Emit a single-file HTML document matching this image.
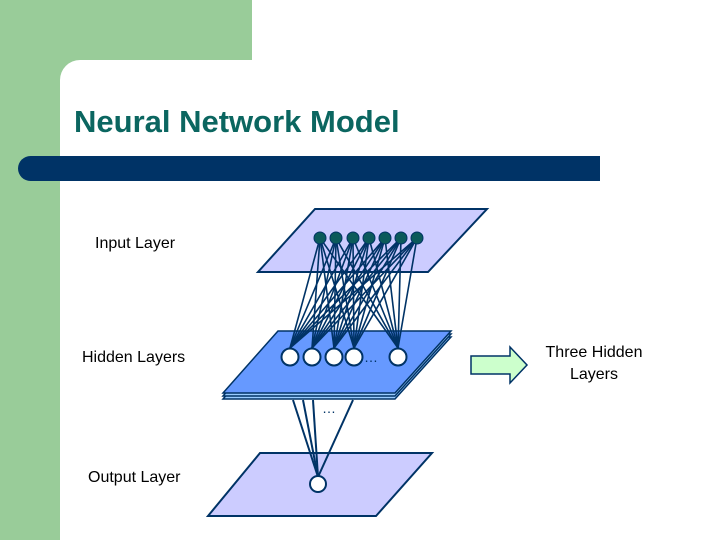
<!DOCTYPE html>
<html><head><style>
body{margin:0;width:720px;height:540px;overflow:hidden;background:#fff;font-family:"Liberation Sans",sans-serif;}
</style></head><body>
<svg width="720" height="540" xmlns="http://www.w3.org/2000/svg" style="position:absolute;left:0;top:0">
<rect x="0" y="0" width="60" height="540" fill="#99cc99"/>
<rect x="0" y="0" width="252" height="60" fill="#99cc99"/>
<path d="M60 60 L60 80 A20 20 0 0 1 80 60 Z" fill="#99cc99"/>
<rect x="18" y="156" width="582" height="25" rx="12.5" fill="#003366"/>
<rect x="40" y="156" width="560" height="25" fill="#003366"/>
<text x="74" y="132" font-size="31" font-weight="bold" fill="#0b6660" font-family="Liberation Sans, sans-serif">Neural Network Model</text>
<g font-family="Liberation Sans, sans-serif" font-size="16" fill="#000">
<text x="95" y="248">Input Layer</text>
<text x="82" y="362">Hidden Layers</text>
<text x="88" y="482">Output Layer</text>
<text x="594" y="357" text-anchor="middle">Three Hidden</text>
<text x="594" y="379" text-anchor="middle">Layers</text>
</g>
<!-- input plane -->
<polygon points="315,209 487,209 428,272 258,272" fill="#ccccff" stroke="#003366" stroke-width="2"/>
<!-- hidden planes -->
<polygon points="278,337 451,337 395,399 223,399" fill="#99ccff" stroke="#003366" stroke-width="1.5"/>
<polygon points="278,334 451,334 395,396 223,396" fill="#99ccff" stroke="#003366" stroke-width="1.5"/>
<polygon points="278,331 451,331 395,393 223,393" fill="#6699ff" stroke="#003366" stroke-width="1.5"/>
<!-- output plane -->
<polygon points="260,453 432,453 376,516 208,516" fill="#ccccff" stroke="#003366" stroke-width="2"/>
<g stroke="#003366" stroke-width="1.5" id="conn"></g>
<g stroke="#003366" stroke-width="2">
<line x1="293" y1="400" x2="318" y2="477"/>
<line x1="303" y1="400" x2="318" y2="477"/>
<line x1="313" y1="400" x2="318" y2="477"/>
<line x1="353" y1="400" x2="318" y2="477"/>
</g>
<text x="322" y="413" font-size="14" fill="#003366">…</text>
<text x="364" y="362" font-size="14" fill="#003366">…</text>
<g stroke="#003366" stroke-width="1.5">
<script>
</script>
</g>
<g id="lines" stroke="#003366" stroke-width="1.6">
<line x1="320" y1="238" x2="290" y2="348"/><line x1="320" y1="238" x2="312" y2="348"/><line x1="320" y1="238" x2="334" y2="348"/><line x1="320" y1="238" x2="354" y2="348"/><line x1="320" y1="238" x2="398" y2="348"/>
<line x1="336" y1="238" x2="290" y2="348"/><line x1="336" y1="238" x2="312" y2="348"/><line x1="336" y1="238" x2="334" y2="348"/><line x1="336" y1="238" x2="354" y2="348"/><line x1="336" y1="238" x2="398" y2="348"/>
<line x1="353" y1="238" x2="290" y2="348"/><line x1="353" y1="238" x2="312" y2="348"/><line x1="353" y1="238" x2="334" y2="348"/><line x1="353" y1="238" x2="354" y2="348"/><line x1="353" y1="238" x2="398" y2="348"/>
<line x1="369" y1="238" x2="290" y2="348"/><line x1="369" y1="238" x2="312" y2="348"/><line x1="369" y1="238" x2="334" y2="348"/><line x1="369" y1="238" x2="354" y2="348"/><line x1="369" y1="238" x2="398" y2="348"/>
<line x1="385" y1="238" x2="290" y2="348"/><line x1="385" y1="238" x2="312" y2="348"/><line x1="385" y1="238" x2="334" y2="348"/><line x1="385" y1="238" x2="354" y2="348"/><line x1="385" y1="238" x2="398" y2="348"/>
<line x1="401" y1="238" x2="290" y2="348"/><line x1="401" y1="238" x2="312" y2="348"/><line x1="401" y1="238" x2="334" y2="348"/><line x1="401" y1="238" x2="354" y2="348"/><line x1="401" y1="238" x2="398" y2="348"/>
<line x1="417" y1="238" x2="290" y2="348"/><line x1="417" y1="238" x2="312" y2="348"/><line x1="417" y1="238" x2="334" y2="348"/><line x1="417" y1="238" x2="354" y2="348"/><line x1="417" y1="238" x2="398" y2="348"/>
</g>
<g fill="#0b5a5a" stroke="#003366" stroke-width="1">
<circle cx="320" cy="238" r="6"/><circle cx="336" cy="238" r="6"/><circle cx="353" cy="238" r="6"/><circle cx="369" cy="238" r="6"/><circle cx="385" cy="238" r="6"/><circle cx="401" cy="238" r="6"/><circle cx="417" cy="238" r="6"/>
</g>
<g fill="#fff" stroke="#003366" stroke-width="2">
<circle cx="290" cy="357" r="8.5"/><circle cx="312" cy="357" r="8.5"/><circle cx="334" cy="357" r="8.5"/><circle cx="354" cy="357" r="8.5"/><circle cx="398" cy="357" r="8.5"/>
<circle cx="318" cy="484" r="8"/>
</g>
<polygon points="471,356 510,356 510,347 527,365 510,383 510,374 471,374" fill="#ccffcc" stroke="#003366" stroke-width="1.5"/>
</svg>
</body></html>
